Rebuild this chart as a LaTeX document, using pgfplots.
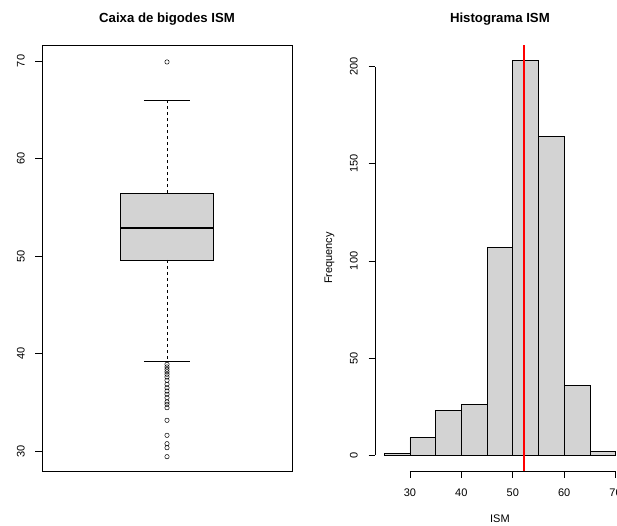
\documentclass[border=0pt]{standalone}
\usepackage{pgfplots}
\pgfplotsset{compat=1.18}
\usepackage{fontspec}
\setmainfont{Liberation Sans}
\definecolor{boxgray}{HTML}{D3D3D3}

\begin{document}
\begin{tikzpicture}[x=1pt,y=1pt]
\pgfplotsset{
  rstyle/.style={
    scale only axis,
    anchor=south west,
    clip=false,
    font=\fontsize{11}{13}\selectfont,
    /pgf/number format/assume math mode=true,
    tick align=outside,
    major tick length=6.5pt,
    tick style={black, line width=0.7pt},
    axis line style={line width=0.7pt},
    title style={font=\bfseries\fontsize{13.2}{15}\selectfont,
                 at={(0.5,1)}, anchor=base, yshift=16pt},
    yticklabel style={xshift=-10.5pt, rotate=90, anchor=south, inner sep=0pt},
  }
}

% ---------------- Box-and-whisker plot ----------------
\begin{axis}[rstyle,
  at={(42pt,54pt)}, width=250pt, height=426pt,
  xmin=0.46, xmax=1.54, ymin=27.95, ymax=71.64,
  xtick=\empty, ytick={30,40,50,60,70}, ytick pos=left,
  title={Caixa de bigodes ISM}]
  % box (quartiles)
  \addplot[draw=black, fill=boxgray, line width=0.7pt]
    coordinates {(0.8,49.59) (1.2,49.59) (1.2,56.46) (0.8,56.46)} -- cycle;
  % median
  \addplot[black, line width=2.2pt] coordinates {(0.8,52.87) (1.2,52.87)};
  % whiskers
  \addplot[black, dashed, line width=0.6pt] coordinates {(1,56.46) (1,66.0)};
  \addplot[black, dashed, line width=0.6pt] coordinates {(1,49.59) (1,39.23)};
  \addplot[black, line width=0.7pt] coordinates {(0.9,66.0) (1.1,66.0)};
  \addplot[black, line width=0.7pt] coordinates {(0.9,39.23) (1.1,39.23)};
  % outliers
  \addplot[only marks, mark=o, mark size=2.2pt, mark options={black, line width=0.5pt}]
    coordinates {
      (1,69.90) (1,38.89) (1,38.62) (1,38.38) (1,38.13) (1,37.87) (1,37.59)
      (1,37.25) (1,36.84) (1,36.49) (1,36.15) (1,35.82) (1,35.47) (1,35.03)
      (1,34.79) (1,34.44) (1,33.15) (1,31.61) (1,30.75) (1,30.34) (1,29.42)
    };
\end{axis}

% ---------------- Histogram ----------------
\begin{axis}[rstyle,
  at={(375pt,54pt)}, width=249.8pt, height=426pt,
  xmin=23.2, xmax=71.8, ymin=-8.12, ymax=211.12,
  axis x line*=bottom, axis y line*=left,
  axis line style={draw=none},
  xtick={30,40,50,60,70}, ytick={0,50,100,150,200},
  xticklabel style={anchor=north, inner sep=0pt, yshift=-11pt},
  xlabel={ISM}, ylabel={Frequency},
  xlabel style={at={(0.5,0)}, anchor=base, yshift=-51pt},
  ylabel style={at={(0,0.5)}, anchor=base, yshift=43pt},
  title={Histograma ISM}]
  % axis lines spanning the tick range
  \addplot[black, line width=0.7pt] coordinates {(30,-8.12) (70,-8.12)};
  \addplot[black, line width=0.7pt] coordinates {(23.2,0) (23.2,200)};
  % bars
  \addplot[ybar interval, draw=black, fill=boxgray, line width=0.7pt]
    coordinates {(25,1) (30,9) (35,23) (40,26) (45,107) (50,203)
                 (55,164) (60,36) (65,2) (70,2)};
  % mean
  \addplot[red, line width=2.2pt] coordinates {(52.24,-8.12) (52.24,211.12)};
\end{axis}

\pgfresetboundingbox
\useasboundingbox (0,0) rectangle (617,525);
\end{tikzpicture}
\end{document}
